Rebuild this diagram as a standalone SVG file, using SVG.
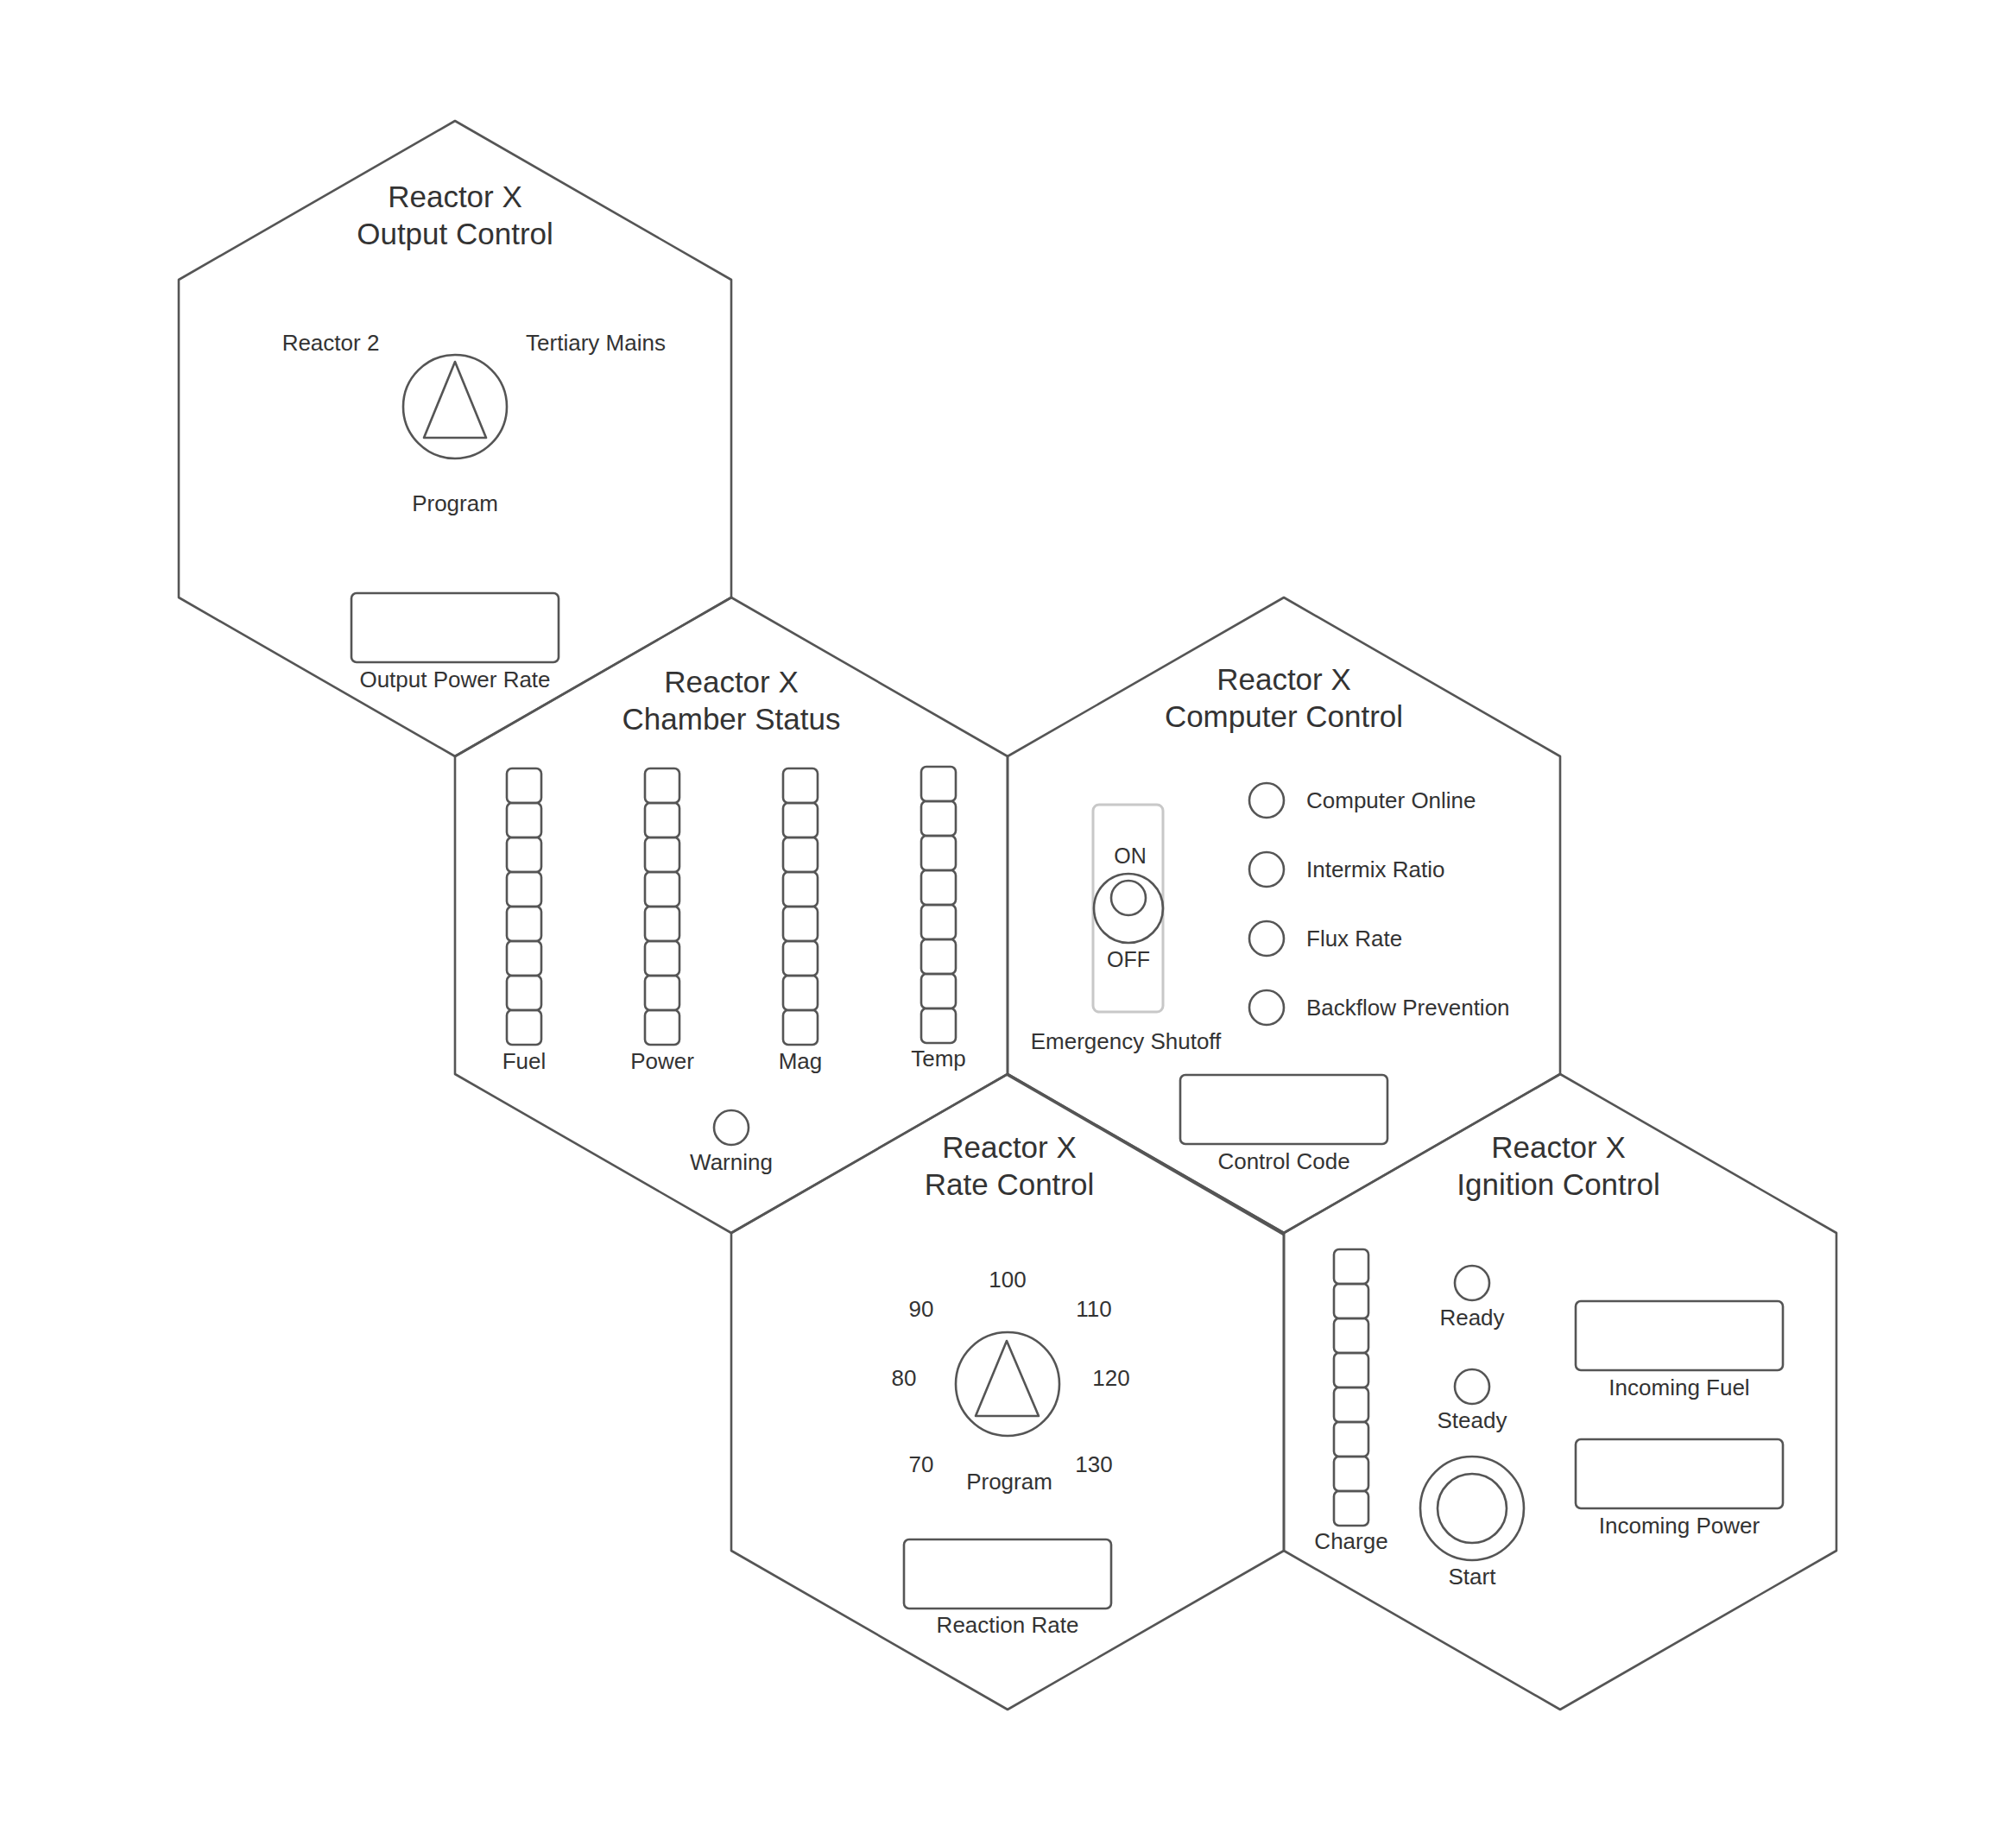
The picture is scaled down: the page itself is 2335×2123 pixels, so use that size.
<svg xmlns="http://www.w3.org/2000/svg" xmlns:xlink="http://www.w3.org/1999/xlink" width="2335" height="2123" viewBox="0 0 2335 2123">
<style>
.hex{fill:none;stroke:#555;stroke-width:2.6;stroke-linejoin:round}
.ln{fill:none;stroke:#555;stroke-width:2.6;stroke-linejoin:round}
.sw{fill:none;stroke:#c8c8c8;stroke-width:3}
text{font-family:"Liberation Sans",Arial,sans-serif;fill:#333;text-anchor:middle}
.t{font-size:35px}
.l{font-size:26px}
.s{font-size:25px}
.st{text-anchor:start}
</style>
<defs>
<path id="hx" d="M0,-368 L320,-184 L320,184 L0,368 L-320,184 L-320,-184 Z"/>
<rect id="cell" width="40" height="40" rx="6"/>
<g id="col">
<use href="#cell" y="0"/><use href="#cell" y="40"/><use href="#cell" y="80"/><use href="#cell" y="120"/>
<use href="#cell" y="160"/><use href="#cell" y="200"/><use href="#cell" y="240"/><use href="#cell" y="280"/>
</g>
</defs>
<rect width="2335" height="2123" fill="#fff"/>

<g id="output-control">
<use href="#hx" class="hex" x="527" y="508"/>
<text class="t" x="527" y="240">Reactor X</text>
<text class="t" x="527" y="283">Output Control</text>
<text class="l" x="383" y="406">Reactor 2</text>
<text class="l" x="690" y="406">Tertiary Mains</text>
<circle class="ln" cx="527" cy="471" r="60"/>
<path class="ln" d="M527,419 L563,507 L491,507 Z"/>
<text class="l" x="527" y="592">Program</text>
<rect class="ln" x="407" y="687" width="240" height="80" rx="6"/>
<text class="l" x="527" y="796">Output Power Rate</text>
</g>

<g id="chamber-status">
<use href="#hx" class="hex" x="847" y="1060"/>
<text class="t" x="847" y="802">Reactor X</text>
<text class="t" x="847" y="845">Chamber Status</text>
<use href="#col" class="ln" x="587" y="890"/>
<use href="#col" class="ln" x="747" y="890"/>
<use href="#col" class="ln" x="907" y="890"/>
<use href="#col" class="ln" x="1067" y="888"/>
<text class="l" x="607" y="1238">Fuel</text>
<text class="l" x="767" y="1238">Power</text>
<text class="l" x="927" y="1238">Mag</text>
<text class="l" x="1087" y="1235">Temp</text>
<circle class="ln" cx="847" cy="1306" r="20"/>
<text class="l" x="847" y="1355">Warning</text>
</g>

<g id="computer-control">
<use href="#hx" class="hex" x="1487" y="1060"/>
<text class="t" x="1487" y="799">Reactor X</text>
<text class="t" x="1487" y="842">Computer Control</text>
<rect class="sw" x="1266" y="932" width="81" height="240" rx="7"/>
<circle class="ln" cx="1307" cy="1052" r="40"/>
<circle class="ln" cx="1307" cy="1040" r="20"/>
<text class="s" x="1309" y="1000">ON</text>
<text class="s" x="1307" y="1120">OFF</text>
<text class="l" x="1304" y="1215">Emergency Shutoff</text>
<circle class="ln" cx="1467" cy="927" r="20"/>
<circle class="ln" cx="1467" cy="1007" r="20"/>
<circle class="ln" cx="1467" cy="1087" r="20"/>
<circle class="ln" cx="1467" cy="1167" r="20"/>
<text class="l st" x="1513" y="936">Computer Online</text>
<text class="l st" x="1513" y="1016">Intermix Ratio</text>
<text class="l st" x="1513" y="1096">Flux Rate</text>
<text class="l st" x="1513" y="1176">Backflow Prevention</text>
<rect class="ln" x="1367" y="1245" width="240" height="80" rx="6"/>
<text class="l" x="1487" y="1354">Control Code</text>
</g>

<g id="rate-control">
<use href="#hx" class="hex" x="1167" y="1612"/>
<path class="ln" d="M1167,1245 L1487,1430" stroke-width="2"/>
<text class="t" x="1169" y="1341">Reactor X</text>
<text class="t" x="1169" y="1384">Rate Control</text>
<text class="l" x="1167" y="1491">100</text>
<text class="l" x="1067" y="1525">90</text>
<text class="l" x="1267" y="1525">110</text>
<text class="l" x="1047" y="1605">80</text>
<text class="l" x="1287" y="1605">120</text>
<text class="l" x="1067" y="1705">70</text>
<text class="l" x="1267" y="1705">130</text>
<circle class="ln" cx="1167" cy="1603" r="60"/>
<path class="ln" d="M1166,1553 L1203,1640 L1130,1640 Z"/>
<text class="l" x="1169" y="1725">Program</text>
<rect class="ln" x="1047" y="1783" width="240" height="80" rx="6"/>
<text class="l" x="1167" y="1891">Reaction Rate</text>
</g>

<g id="ignition-control">
<use href="#hx" class="hex" x="1807" y="1612"/>
<text class="t" x="1805" y="1341">Reactor X</text>
<text class="t" x="1805" y="1384">Ignition Control</text>
<use href="#col" class="ln" x="1545" y="1447"/>
<text class="l" x="1565" y="1794">Charge</text>
<circle class="ln" cx="1705" cy="1486" r="20"/>
<text class="l" x="1705" y="1535">Ready</text>
<circle class="ln" cx="1705" cy="1606" r="20"/>
<text class="l" x="1705" y="1654">Steady</text>
<circle class="ln" cx="1705" cy="1747" r="60"/>
<circle class="ln" cx="1705" cy="1747" r="40"/>
<text class="l" x="1705" y="1835">Start</text>
<rect class="ln" x="1825" y="1507" width="240" height="80" rx="6"/>
<text class="l" x="1945" y="1616">Incoming Fuel</text>
<rect class="ln" x="1825" y="1667" width="240" height="80" rx="6"/>
<text class="l" x="1945" y="1776">Incoming Power</text>
</g>

<g id="connectors"/>
</svg>
